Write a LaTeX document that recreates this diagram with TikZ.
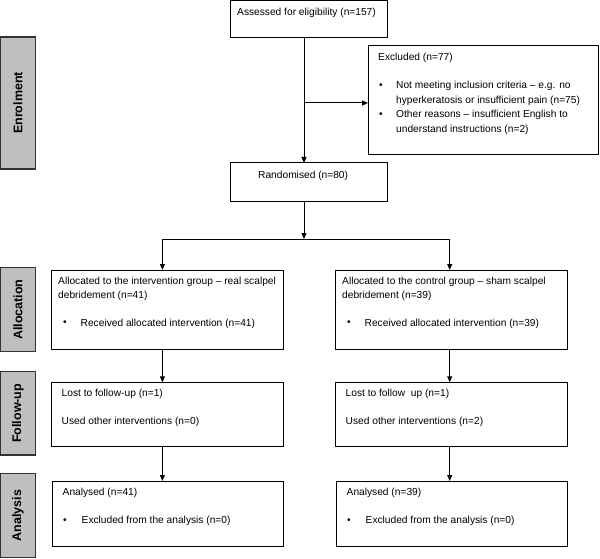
\documentclass[tikz,border=0pt]{standalone}
\usepackage{fontspec}
\setmainfont{Liberation Sans}
\usetikzlibrary{arrows.meta}
\begin{document}
\begin{tikzpicture}[x=1pt,y=-1pt,
  box/.style={draw, line width=1pt, anchor=north west, inner sep=0pt, outer sep=0pt},
  side/.style={draw=black!80, fill=black!25, line width=1.3pt, anchor=north west, inner sep=0pt, outer sep=0pt},
  sidetxt/.style={rotate=90, inner sep=0pt, font=\fontsize{12.5}{14}\selectfont\bfseries},
  txt/.style={anchor=west, inner sep=0pt, font=\fontsize{10.2}{12}\selectfont},
  bul/.style={anchor=center, inner sep=0pt, font=\fontsize{10.2}{12}\selectfont},
  conn/.style={line width=1pt},
  arr/.style={conn, -{Triangle[length=6pt,width=5pt]}}
]
\useasboundingbox (0,0) rectangle (600,559);

% side labels
\node[side, minimum width=34.5pt, minimum height=132pt] (sEnrol) at (0.7,37) {};
\node[sidetxt] (lEnrol) at (sEnrol.center) {Enrolment};
\node[side, minimum width=34.5pt, minimum height=84pt] (sAlloc) at (0.7,267.7) {};
\node[sidetxt] (lAlloc) at (sAlloc.center) {Allocation};
\node[side, minimum width=34.5pt, minimum height=83.3pt] (sFollow) at (0.7,371.7) {};
\node[sidetxt] (lFollow) at (sFollow.center) {Follow-up};
\node[side, minimum width=34.5pt, minimum height=84.5pt] (sAnal) at (0.7,473.3) {};
\node[sidetxt] (lAnal) at (sAnal.center) {Analysis};

% enrolment boxes
\node[box, minimum width=157pt, minimum height=37pt] (assess) at (230,1) {};
\node[txt] (tAssess) at (237,12.5) {Assessed for eligibility (n=157)};

\node[box, minimum width=230pt, minimum height=109pt] (excl) at (368,46) {};
\node[txt] (tExcl) at (378,58) {Excluded (n=77)};
\node[bul] (bExcl1) at (381,86) {•};
\node[txt] (tExcl1) at (396,86) {Not meeting inclusion criteria – e.g. no};
\node[txt] (tExcl2) at (396,100.5) {hyperkeratosis or insufficient pain (n=75)};
\node[bul] (bExcl2) at (381,115) {•};
\node[txt] (tExcl3) at (396,115) {Other reasons – insufficient English to};
\node[txt] (tExcl4) at (396,129.5) {understand instructions (n=2)};

\node[box, minimum width=157pt, minimum height=38pt] (rand) at (230,163) {};
\node[txt] (tRand) at (258,176) {Randomised (n=80)};

% allocation
\node[box, minimum width=231.5pt, minimum height=79.3pt] (allocL) at (51.7,270) {};
\node[txt] (tAllocL1) at (58,282) {Allocated to the intervention group – real scalpel};
\node[txt] (tAllocL2) at (58,296) {debridement (n=41)};
\node[bul] (bAllocL) at (65,323.5) {•};
\node[txt] (tAllocL3) at (80.5,323.5) {Received allocated intervention (n=41)};

\node[box, minimum width=231.5pt, minimum height=79.3pt] (allocR) at (335.8,270) {};
\node[txt] (tAllocR1) at (342,282) {Allocated to the control group – sham scalpel};
\node[txt] (tAllocR2) at (342,296) {debridement (n=39)};
\node[bul] (bAllocR) at (349,323.5) {•};
\node[txt] (tAllocR3) at (364.5,323.5) {Received allocated intervention (n=39)};

% follow-up
\node[box, minimum width=231.5pt, minimum height=64.5pt] (fuL) at (51.7,382.3) {};
\node[txt] (tFuL1) at (61.5,394) {Lost to follow-up (n=1)};
\node[txt] (tFuL2) at (61.5,422) {Used other interventions (n=0)};

\node[box, minimum width=231.5pt, minimum height=64.5pt] (fuR) at (335.8,382.3) {};
\node[txt] (tFuR1) at (345.5,394) {Lost to follow\ \ up (n=1)};
\node[txt] (tFuR2) at (345.5,422) {Used other interventions (n=2)};

% analysis
\node[box, minimum width=231pt, minimum height=65.7pt] (anL) at (52.3,481) {};
\node[txt] (tAnL1) at (62.5,493) {Analysed (n=41)};
\node[bul] (bAnL) at (65,521) {•};
\node[txt] (tAnL2) at (81.5,521) {Excluded from the analysis (n=0)};

\node[box, minimum width=231pt, minimum height=65.7pt] (anR) at (336.5,481) {};
\node[txt] (tAnR1) at (346.5,493) {Analysed (n=39)};
\node[bul] (bAnR) at (349,521) {•};
\node[txt] (tAnR2) at (365.5,521) {Excluded from the analysis (n=0)};

% connectors
\coordinate (vx) at (304,0);
\coordinate (br) at (304,103);
\coordinate (split) at (304,239);
\coordinate (splitL) at (162.4,239);
\coordinate (splitR) at (449.7,239);

\draw[arr] (assess.south -| vx) -- (rand.north -| vx);
\draw[arr] (br) -- (br -| excl.west);
\draw[arr] (rand.south -| vx) -- (split);
\draw[conn] (splitL) -- (splitR);
\draw[arr] (splitL) -- (allocL.north -| splitL);
\draw[arr] (splitR) -- (allocR.north -| splitR);
\draw[arr] (allocL.south -| splitL) -- (fuL.north -| splitL);
\draw[arr] (allocR.south -| splitR) -- (fuR.north -| splitR);
\draw[arr] (fuL.south -| splitL) -- (anL.north -| splitL);
\draw[arr] (fuR.south -| splitR) -- (anR.north -| splitR);
\end{tikzpicture}
\end{document}
